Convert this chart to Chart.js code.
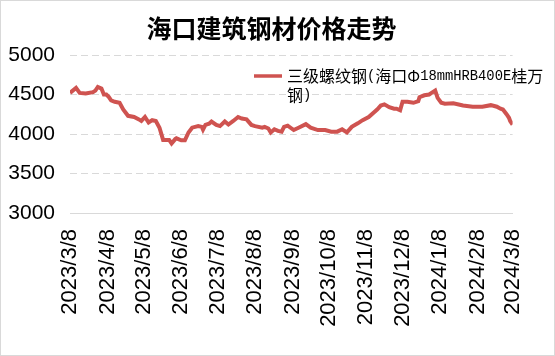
<!DOCTYPE html>
<html>
<head>
<meta charset="utf-8">
<script src="https://cdn.jsdelivr.net/npm/chart.js@4/dist/chart.umd.min.js"></script>
<style>
html,body{margin:0;padding:0;background:#fff;}
#wrap{position:relative;width:555px;height:356px;}
</style>
</head>
<body>
<div id="wrap"><canvas id="c" width="555" height="356"></canvas></div>
<script>
const chartTitle = '海口建筑钢材价格走势';
const seriesName = '三级螺纹钢(海口Φ18mmHRB400E桂万钢)';
const tickDates = ['2023-03-08','2023-04-08','2023-05-08','2023-06-08','2023-07-08','2023-08-08','2023-09-08','2023-10-08','2023-11-08','2023-12-08','2024-01-08','2024-02-08','2024-03-08'];
const tickLabels = ['2023/3/8','2023/4/8','2023/5/8','2023/6/8','2023/7/8','2023/8/8','2023/9/8','2023/10/8','2023/11/8','2023/12/8','2024/1/8','2024/2/8','2024/3/8'];
const yTicks = [3000,3500,4000,4500,5000];
const dates = [
'2023-03-08','2023-03-13','2023-03-16','2023-03-21','2023-03-27','2023-03-29','2023-03-31','2023-04-03','2023-04-05','2023-04-07',
'2023-04-09','2023-04-11','2023-04-14','2023-04-18','2023-04-21','2023-04-25','2023-04-30','2023-05-04','2023-05-06','2023-05-09',
'2023-05-12','2023-05-15','2023-05-18','2023-05-21','2023-05-24','2023-05-29','2023-05-31','2023-06-03','2023-06-04','2023-06-08',
'2023-06-11','2023-06-14','2023-06-17','2023-06-22','2023-06-25','2023-06-26','2023-06-28','2023-07-01','2023-07-03','2023-07-07',
'2023-07-10','2023-07-14','2023-07-17','2023-07-21','2023-07-25','2023-07-28','2023-08-01','2023-08-05','2023-08-08','2023-08-14',
'2023-08-16','2023-08-19','2023-08-21','2023-08-24','2023-08-27','2023-08-30','2023-09-01','2023-09-04','2023-09-09','2023-09-13',
'2023-09-19','2023-09-23','2023-09-29','2023-10-05','2023-10-10','2023-10-15','2023-10-19','2023-10-23','2023-10-27','2023-11-01',
'2023-11-05','2023-11-10','2023-11-14','2023-11-17','2023-11-20','2023-11-23','2023-11-27','2023-12-01','2023-12-03','2023-12-06',
'2023-12-08','2023-12-12','2023-12-17','2023-12-21','2023-12-22','2023-12-26','2023-12-30','2024-01-01','2024-01-04','2024-01-06',
'2024-01-09','2024-01-12','2024-01-19','2024-01-27','2024-02-04','2024-02-12','2024-02-19','2024-02-24','2024-02-27','2024-02-29',
'2024-03-03','2024-03-05','2024-03-06','2024-03-08'
];
const prices = [
4520,4583,4520,4512,4530,4550,4595,4575,4500,4500,
4470,4425,4408,4395,4310,4230,4215,4185,4165,4215,
4145,4175,4165,4080,3925,3925,3880,3935,3945,3920,
3920,4020,4080,4100,4090,4055,4115,4130,4158,4115,
4100,4158,4120,4165,4215,4195,4185,4115,4100,4080,
4090,4070,4020,4060,4040,4030,4090,4105,4050,4080,
4125,4080,4050,4050,4030,4030,4060,4020,4090,4135,
4175,4215,4270,4310,4360,4375,4340,4320,4320,4300,
4408,4408,4395,4415,4465,4490,4500,4520,4550,4458,
4395,4383,4390,4360,4345,4345,4365,4345,4320,4310,
4250,4205,4165,4120
];

const baseDay = Date.parse(tickDates[0]);
const dayOf = s => Math.round((Date.parse(s) - baseDay) / 86400000);
const tickDays = tickDates.map(dayOf);
const lineColor = '#cf5350';

const framePlugin = {
  id: 'frame',
  beforeDraw(chart) {
    const ctx = chart.ctx;
    ctx.save();
    ctx.fillStyle = '#fff';
    ctx.fillRect(0, 0, chart.width, chart.height);
    ctx.strokeStyle = '#d9d9d9';
    ctx.lineWidth = 1;
    ctx.strokeRect(0.5, 0.5, chart.width - 1, chart.height - 1);
    ctx.restore();
  }
};

const FONT_CJK = '16px "Noto Sans CJK SC"';
const FONT_LATIN = '13.8px "Liberation Mono", "DejaVu Sans Mono", monospace';
const legendPlugin = {
  id: 'wrapLegend',
  afterDraw(chart) {
    const ctx = chart.ctx;
    const ds = chart.data.datasets[0];
    ctx.save();
    ctx.strokeStyle = ds.borderColor;
    ctx.lineWidth = 3.5;
    ctx.beginPath();
    ctx.moveTo(254, 76);
    ctx.lineTo(282, 76);
    ctx.stroke();
    ctx.fillStyle = '#000';
    ctx.textBaseline = 'middle';
    const x0 = 287, maxW = 262;
    const lines = [[]];
    let w = 0;
    for (const ch of ds.label) {
      const f = ch.charCodeAt(0) < 128 ? FONT_LATIN : FONT_CJK;
      ctx.font = f;
      const cw = ctx.measureText(ch).width;
      if (w + cw > maxW && lines[lines.length - 1].length) { lines.push([]); w = 0; }
      const line = lines[lines.length - 1];
      const last = line[line.length - 1];
      if (last && last.f === f) last.t += ch; else line.push({ f, t: ch });
      w += cw;
    }
    lines.forEach((runs, i) => {
      let x = x0;
      const y = 76 + i * 19;
      runs.forEach(r => {
        ctx.font = r.f;
        ctx.fillText(r.t, x, y);
        x += ctx.measureText(r.t).width;
      });
    });
    ctx.restore();
  }
};

new Chart(document.getElementById('c'), {
  type: 'line',
  data: {
    datasets: [{
      label: seriesName,
      data: dates.map((d, i) => ({ x: dayOf(d), y: prices[i] })),
      borderColor: lineColor,
      backgroundColor: lineColor,
      borderWidth: 4,
      pointRadius: 0,
      tension: 0,
      fill: false
    }]
  },
  options: {
    responsive: false,
    animation: false,
    layout: { padding: { left: 0, right: 12, top: 0, bottom: 0 } },
    plugins: {
      legend: { display: false },
      tooltip: { enabled: false },
      title: {
        display: true,
        text: chartTitle,
        color: '#000',
        font: { family: '"Noto Sans CJK SC"', size: 25, weight: 'bold' },
        padding: { top: 13, bottom: 12 }
      }
    },
    scales: {
      x: {
        type: 'linear',
        min: tickDays[0],
        max: tickDays[tickDays.length - 1],
        afterBuildTicks: s => { s.ticks = tickDays.map(v => ({ value: v })); },
        afterFit: s => { s.height = 356 - 213; },
        ticks: {
          autoSkip: false,
          minRotation: 90,
          maxRotation: 90,
          padding: 16,
          color: '#000',
          font: { family: '"Liberation Sans", Arial', size: 22 },
          callback: (v) => { const i = tickDays.indexOf(v); return i >= 0 ? tickLabels[i] : ''; }
        },
        grid: { display: false, drawTicks: false },
        border: { display: true, color: '#d9d9d9', width: 1 }
      },
      y: {
        min: yTicks[0],
        max: yTicks[yTicks.length - 1],
        afterBuildTicks: s => { s.ticks = yTicks.map(v => ({ value: v })); },
        afterFit: s => { s.width = 70; },
        ticks: {
          padding: 15,
          color: '#000',
          font: { family: '"Liberation Sans", Arial', size: 21 },
          callback: v => String(v)
        },
        grid: {
          drawTicks: false,
          color: ctx => ctx.tick && ctx.tick.value === yTicks[0] ? 'rgba(0,0,0,0)' : '#d9d9d9',
          lineWidth: 1
        },
        border: { display: false, dash: [7, 4] }
      }
    }
  },
  plugins: [framePlugin, legendPlugin]
});
</script>
</body>
</html>
